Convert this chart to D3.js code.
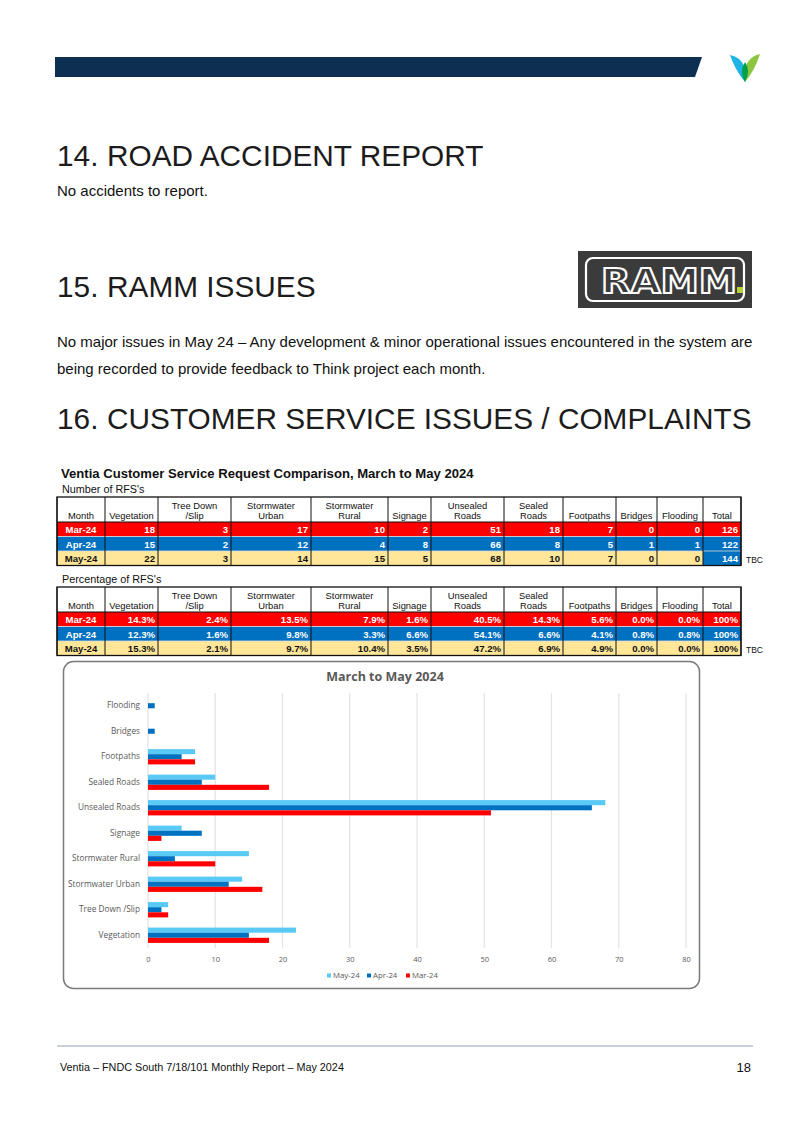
<!DOCTYPE html>
<html>
<head>
<meta charset="utf-8">
<script src="https://cdn.jsdelivr.net/npm/d3@7"></script>
<style>
  body { margin: 0; background: #fff; }
  svg { display: block; }
</style>
</head>
<body>
<svg id="page"></svg>
<script>
// data
const categories = ["Vegetation", "Tree Down /Slip", "Stormwater Urban", "Stormwater Rural", "Signage",
  "Unsealed Roads", "Sealed Roads", "Footpaths", "Bridges", "Flooding"];
const tableHeaders = ["Month", "Vegetation", "Tree Down\n/Slip", "Stormwater\nUrban", "Stormwater\nRural", "Signage",
  "Unsealed\nRoads", "Sealed\nRoads", "Footpaths", "Bridges", "Flooding", "Total"];
const months = ["Mar-24", "Apr-24", "May-24"];
const mar24 = [18, 3, 17, 10, 2, 51, 18, 7, 0, 0];
const apr24 = [15, 2, 12, 4, 8, 66, 8, 5, 1, 1];
const may24 = [22, 3, 14, 15, 5, 68, 10, 7, 0, 0];
const totals = [126, 122, 144];
const marPct = [14.3, 2.4, 13.5, 7.9, 1.6, 40.5, 14.3, 5.6, 0.0, 0.0];
const aprPct = [12.3, 1.6, 9.8, 3.3, 6.6, 54.1, 6.6, 4.1, 0.8, 0.8];
const mayPct = [15.3, 2.1, 9.7, 10.4, 3.5, 47.2, 6.9, 4.9, 0.0, 0.0];
const xTicks = [0, 10, 20, 30, 40, 50, 60, 70, 80];

const W = 807, H = 1140;
const svg = d3.select("#page").attr("width", W).attr("height", H);
const sans = "'Liberation Sans', Arial, sans-serif";

// header bar + logo
svg.append("path").attr("d", "M55,57 L702,57 L695,77 L55,77 Z").attr("fill", "#0c2f52");
svg.append("path").attr("d", "M730,55 Q739,56 745,67 L745,82 Q735,70 730,55 Z").attr("fill", "#1fb3e6");
svg.append("path").attr("d", "M760,54 Q751,55 745,67 L745,82 Q755,70 760,54 Z").attr("fill", "#8cc63f");
svg.append("path").attr("d", "M745,62 Q751,71 745,82 Q739,71 745,62 Z").attr("fill", "#00a04b");

// headings
function heading(num, txt, y) {
  svg.append("text").attr("x", 57).attr("y", y).attr("font-family", sans).attr("font-size", 29.8)
    .attr("fill", "#1c1c1c").text(num);
  svg.append("text").attr("x", 107).attr("y", y).attr("font-family", sans).attr("font-size", 29.8)
    .attr("fill", "#1c1c1c").text(txt);
}
heading("14.", "ROAD ACCIDENT REPORT", 166);
heading("15.", "RAMM ISSUES", 297);
heading("16.", "CUSTOMER SERVICE ISSUES / COMPLAINTS", 429);

function para(txt, y) {
  svg.append("text").attr("x", 57).attr("y", y).attr("font-family", sans).attr("font-size", 15)
    .attr("fill", "#111").text(txt);
}
para("No accidents to report.", 196);
para("No major issues in May 24 \u2013 Any development & minor operational issues encountered in the system are", 347);
para("being recorded to provide feedback to Think project each month.", 374);

// RAMM logo
const ramm = svg.append("g");
ramm.append("rect").attr("x", 578).attr("y", 251).attr("width", 174).attr("height", 57).attr("fill", "#3b3b3b");
ramm.append("rect").attr("x", 586).attr("y", 258).attr("width", 158).attr("height", 43).attr("rx", 7)
  .attr("fill", "none").attr("stroke", "#fff").attr("stroke-width", 2.2);
ramm.append("text").attr("x", 601).attr("y", 293)
  .attr("font-family", "'DejaVu Sans', sans-serif").attr("font-weight", "bold").attr("font-size", 34)
  .attr("textLength", 136).attr("lengthAdjust", "spacingAndGlyphs")
  .attr("fill", "#3b3b3b").attr("stroke", "#fff").attr("stroke-width", 2)
  .text("RAMM");
ramm.append("rect").attr("x", 737).attr("y", 287).attr("width", 6).attr("height", 6).attr("fill", "#b5d334");

// tables
svg.append("text").attr("x", 61).attr("y", 478).attr("font-family", sans).attr("font-weight", "bold")
  .attr("font-size", 13.1).attr("fill", "#111").text("Ventia Customer Service Request Comparison, March to May 2024");

const colEdges = [57, 105, 158, 231, 311, 388, 431, 504, 563, 616, 657, 703, 741];
const rowFill = ["#ff0000", "#0070c0", "#ffe699"];
const rowText = ["#fff", "#fff", "#111"];

function drawTable(label, top, rows, fmt, totalFmt, mayTotalBlue) {
  const g = svg.append("g");
  g.append("text").attr("x", 62).attr("y", top - 4).attr("font-family", sans).attr("font-size", 10.8)
    .attr("fill", "#111").text(label);
  const headH = 25, rowH = 14.5;
  g.append("rect").attr("x", colEdges[0]).attr("y", top).attr("width", colEdges[12] - colEdges[0])
    .attr("height", headH).attr("fill", "#fff");
  tableHeaders.forEach((h, i) => {
    const cx = (colEdges[i] + colEdges[i + 1]) / 2;
    const lines = h.split("\n");
    lines.forEach((ln, j) => {
      g.append("text").attr("x", cx).attr("y", top + headH - 3 - (lines.length - 1 - j) * 10.5)
        .attr("text-anchor", "middle").attr("font-family", sans).attr("font-size", 9.4)
        .attr("fill", "#111").text(ln);
    });
  });
  rows.forEach((vals, r) => {
    const y = top + headH + r * rowH;
    g.append("rect").attr("x", colEdges[0]).attr("y", y).attr("width", colEdges[12] - colEdges[0])
      .attr("height", rowH).attr("fill", rowFill[r]);
    if (r === 2 && mayTotalBlue) {
      g.append("rect").attr("x", colEdges[11]).attr("y", y).attr("width", colEdges[12] - colEdges[11])
        .attr("height", rowH).attr("fill", "#0070c0");
    }
    g.append("line").attr("x1", colEdges[0]).attr("x2", colEdges[12]).attr("y1", y).attr("y2", y)
      .attr("stroke", r === 0 ? "#111" : "#ddd").attr("stroke-width", r === 0 ? 1 : 0.8);
    g.append("text").attr("x", (colEdges[0] + colEdges[1]) / 2).attr("y", y + 11).attr("text-anchor", "middle")
      .attr("font-family", sans).attr("font-weight", "bold").attr("font-size", 9.6).attr("fill", rowText[r])
      .text(months[r]);
    vals.forEach((v, i) => {
      g.append("text").attr("x", colEdges[i + 2] - 3).attr("y", y + 11).attr("text-anchor", "end")
        .attr("font-family", sans).attr("font-weight", "bold").attr("font-size", 9.6).attr("fill", rowText[r])
        .text(fmt(v));
    });
    const tFill = (r === 2 && mayTotalBlue) ? "#fff" : rowText[r];
    g.append("text").attr("x", colEdges[12] - 3).attr("y", y + 11).attr("text-anchor", "end")
      .attr("font-family", sans).attr("font-weight", "bold").attr("font-size", 9.6).attr("fill", tFill)
      .text(totalFmt(r));
  });
  const bottom = top + headH + 3 * rowH;
  colEdges.forEach(x => {
    g.append("line").attr("x1", x).attr("x2", x).attr("y1", top).attr("y2", bottom)
      .attr("stroke", "#111").attr("stroke-width", 1);
  });
  g.append("rect").attr("x", colEdges[0]).attr("y", top).attr("width", colEdges[12] - colEdges[0])
    .attr("height", bottom - top).attr("fill", "none").attr("stroke", "#111").attr("stroke-width", 1.3);
  g.append("text").attr("x", 746).attr("y", bottom - 3).attr("font-family", sans).attr("font-size", 8.5)
    .attr("fill", "#111").text("TBC");
}

drawTable("Number of RFS's", 497, [mar24, apr24, may24], v => v, r => totals[r], true);
drawTable("Percentage of RFS's", 587, [marPct, aprPct, mayPct], v => v.toFixed(1) + "%", () => "100%", false);

// chart box
svg.append("rect").attr("x", 63.5).attr("y", 661.5).attr("width", 636).attr("height", 327).attr("rx", 10)
  .attr("fill", "#fff").attr("stroke", "#7a7a7a").attr("stroke-width", 1.5);

const chartFont = "'Open Sans', 'Noto Sans', sans-serif";
svg.append("text").attr("x", 385).attr("y", 681).attr("text-anchor", "middle").attr("font-family", chartFont)
  .attr("font-weight", "bold").attr("font-size", 12.5).attr("fill", "#595959").text("March to May 2024");

const x = d3.scaleLinear().domain([0, 80]).range([148, 686]);
const y = d3.scaleBand().domain(categories.slice().reverse()).range([693, 948]).paddingInner(0.4).paddingOuter(0.2);
const series = [
  { name: "May-24", values: may24, color: "#59c9f5" },
  { name: "Apr-24", values: apr24, color: "#0070c0" },
  { name: "Mar-24", values: mar24, color: "#ff0000" }
];
const sub = d3.scaleBand().domain(series.map(s => s.name)).range([0, y.bandwidth()]);

const plot = svg.append("g");
plot.selectAll(".grid").data(xTicks).enter().append("line").attr("class", "grid")
  .attr("x1", d => x(d)).attr("x2", d => x(d)).attr("y1", 693).attr("y2", 948)
  .attr("stroke", "#e3e3e3").attr("stroke-width", 1.2);

series.forEach(s => {
  plot.selectAll(".bar-" + s.name).data(categories.map((c, i) => ({ c, v: s.values[i] })))
    .enter().append("rect")
    .attr("x", x(0)).attr("y", d => y(d.c) + sub(s.name))
    .attr("width", d => x(d.v) - x(0)).attr("height", sub.bandwidth())
    .attr("fill", s.color);
});

const xAxis = svg.append("g").attr("transform", "translate(0,948)")
  .call(d3.axisBottom(x).tickValues(xTicks).tickSize(0).tickPadding(9));
xAxis.select(".domain").remove();
xAxis.selectAll("text").attr("font-family", chartFont).attr("font-size", 7.5).attr("fill", "#595959");

const yAxis = svg.append("g").attr("transform", "translate(148,0)")
  .call(d3.axisLeft(y).tickSize(0).tickPadding(8));
yAxis.select(".domain").remove();
yAxis.selectAll("text").attr("font-family", chartFont).attr("font-size", 8.3).attr("fill", "#595959");

// legend
const legend = svg.append("g");
const legX = [327, 367, 406];
series.forEach((s, i) => {
  legend.append("rect").attr("x", legX[i]).attr("y", 973.5).attr("width", 4).attr("height", 4).attr("fill", s.color);
  legend.append("text").attr("x", legX[i] + 6).attr("y", 978).attr("font-family", chartFont)
    .attr("font-size", 7.8).attr("fill", "#595959").text(s.name);
});

// footer
svg.append("line").attr("x1", 57).attr("x2", 753).attr("y1", 1046).attr("y2", 1046)
  .attr("stroke", "#8ea3ba").attr("stroke-width", 1);
svg.append("text").attr("x", 60).attr("y", 1071).attr("font-family", sans).attr("font-size", 10.8)
  .attr("fill", "#111").text("Ventia \u2013 FNDC South 7/18/101 Monthly Report \u2013 May 2024");
svg.append("text").attr("x", 751).attr("y", 1072).attr("text-anchor", "end").attr("font-family", sans)
  .attr("font-size", 13).attr("fill", "#111").text("18");
</script>
</body>
</html>
